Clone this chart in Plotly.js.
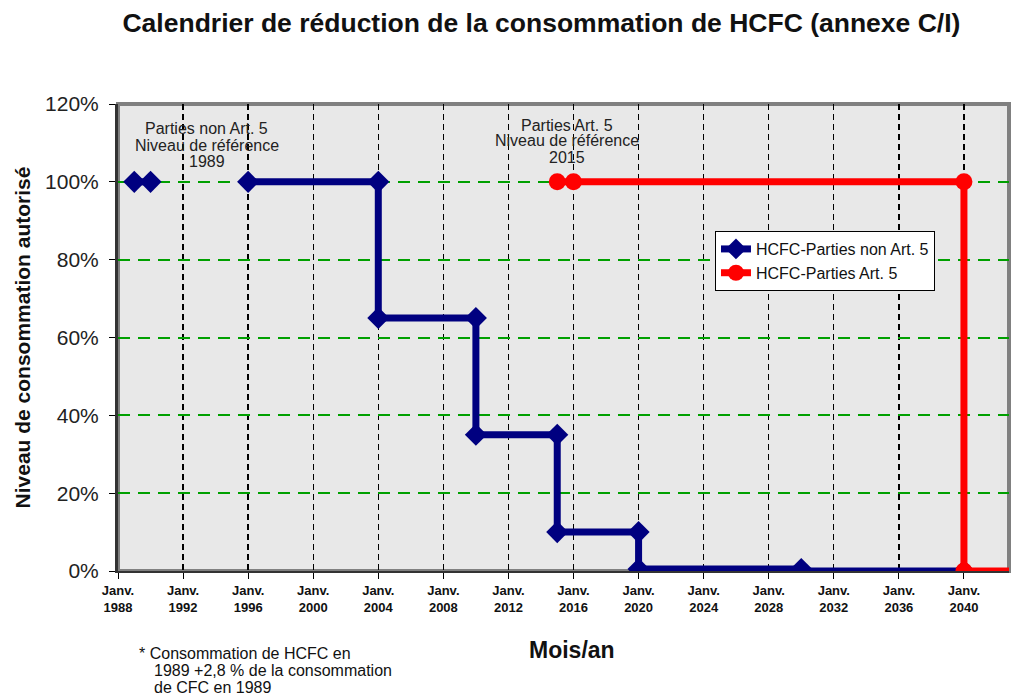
<!DOCTYPE html>
<html><head><meta charset="utf-8">
<script src="https://cdn.plot.ly/plotly-3.0.1.min.js"></script>
<style>html,body{margin:0;padding:0;background:#fff;}#chart{width:1012px;height:695px;}</style>
</head><body><div id="chart"></div>
<script>
// Data
const nonArt5Years = [1989, 1990, null, 1996, 2004, 2004, 2010, 2010, 2015, 2015, 2020, 2020, 2030, 2030, 2040];
const nonArt5Values = [100, 100, null, 100, 100, 65, 65, 35, 35, 10, 10, 0.5, 0.5, 0, 0];
const art5Years = [2015, 2016, 2040, 2040, 2045];
const art5Values = [100, 100, 100, 0, 0];
const tickYears = [1988, 1992, 1996, 2000, 2004, 2008, 2012, 2016, 2020, 2024, 2028, 2032, 2036, 2040];
const tickLabels = tickYears.map(y => 'Janv.<br>' + y);
const yTicks = [0, 20, 40, 60, 80, 100, 120];
const yTickLabels = ['0%', '20%', '40%', '60%', '80%', '100%', '120%'];
const noteNonArt5 = ['Parties non Art. 5', 'Niveau de référence', '1989'];
const noteArt5 = ['Parties Art. 5', 'Niveau de référence', '2015'];
const footnote = ['* Consommation de HCFC en', '1989 +2,8 % de la consommation', 'de CFC en 1989'];

const FONT = 'Liberation Sans, Arial, Helvetica, sans-serif';

const traces = [
  {
    x: nonArt5Years, y: nonArt5Values, name: 'HCFC-Parties non Art. 5',
    type: 'scatter', mode: 'lines+markers', connectgaps: false,
    line: {color: '#000080', width: 7},
    marker: {symbol: 'diamond', size: 17, color: '#000080'}
  },
  {
    x: art5Years, y: art5Values, name: 'HCFC-Parties Art. 5',
    type: 'scatter', mode: 'lines+markers',
    line: {color: '#ff0000', width: 7},
    marker: {symbol: 'circle', size: 17, color: '#ff0000'}
  }
];

const annFont = {family: FONT, size: 16, color: '#222'};
const annotations = [];
const y1 = [113.8, 109.4, 105.3];
noteNonArt5.forEach((t, i) => annotations.push({x: 1993.47, y: y1[i], xref: 'x', yref: 'y', showarrow: false, text: t, font: annFont}));
const y2 = [114.6, 110.5, 106.3];
noteArt5.forEach((t, i) => annotations.push({x: 2015.63, y: y2[i], xref: 'x', yref: 'y', showarrow: false, text: t, font: annFont}));
const fy = [-0.1756, -0.2141, -0.2505];
const fx = [0.0213, 0.0382, 0.0382];
footnote.forEach((t, i) => annotations.push({x: fx[i], y: fy[i], xref: 'paper', yref: 'paper', xanchor: 'left', yanchor: 'middle', showarrow: false, text: t, font: {family: FONT, size: 16, color: '#111'}}));
annotations.push({x: 0.5096, y: -0.169, xref: 'paper', yref: 'paper', xanchor: 'center', yanchor: 'middle', showarrow: false,
  text: '<b>Mois/an</b>', font: {family: FONT, size: 23, color: '#111'}});

const layout = {
  width: 1012, height: 695,
  margin: {l: 118, r: 3, t: 104, b: 124},
  paper_bgcolor: '#ffffff',
  plot_bgcolor: '#e8e8e8',
  font: {family: FONT, color: '#222'},
  title: {
    text: '<b>Calendrier de réduction de la consommation de HCFC (annexe C/I)</b>',
    font: {family: FONT, size: 26.5, color: '#111'},
    x: 0.535, xref: 'container', xanchor: 'center',
    y: 0.967, yref: 'container', yanchor: 'middle'
  },
  xaxis: {
    range: [1988, 2042.77],
    tickmode: 'array', tickvals: tickYears, ticktext: tickLabels,
    tickfont: {family: FONT, size: 13, color: '#111', weight: 'bold'},
    ticks: 'outside', ticklen: 6, tickcolor: '#000',
    showline: true, linecolor: '#333', linewidth: 2,
    showgrid: true, gridcolor: '#000', gridwidth: 1.3, griddash: '6px,4px',
    zeroline: false
  },
  yaxis: {
    range: [0, 120],
    tickmode: 'array', tickvals: yTicks, ticktext: yTickLabels,
    tickfont: {family: FONT, size: 21, color: '#222'},
    ticks: 'outside', ticklen: 6, tickcolor: '#000', ticklabelstandoff: 6,
    showline: true, linecolor: '#333', linewidth: 3,
    showgrid: true, gridcolor: '#00a000', gridwidth: 2, griddash: '12px,8px',
    zeroline: false,
    title: {text: '<b>Niveau de consommation autorisé</b>', font: {family: FONT, size: 21, color: '#111'}, standoff: 9}
  },
  legend: {
    x: 0.67, y: 0.728, xanchor: 'left', yanchor: 'top',
    bgcolor: '#ffffff', bordercolor: '#000', borderwidth: 1,
    font: {family: FONT, size: 16, color: '#111'},
    tracegroupgap: 0
  },
  shapes: [
    {type: 'rect', xref: 'paper', yref: 'paper', x0: 0, x1: 1, y0: 0, y1: 1,
     line: {color: '#808080', width: 4}, layer: 'below'}
  ],
  annotations: annotations
};

Plotly.newPlot('chart', traces, layout, {displayModeBar: false, staticPlot: true});
</script>
</body></html>
